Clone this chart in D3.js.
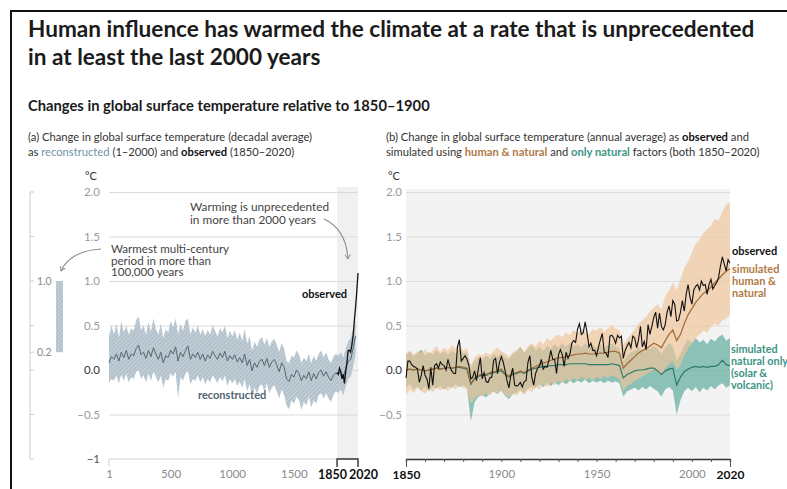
<!DOCTYPE html>
<html><head><meta charset="utf-8">
<script src="https://cdn.jsdelivr.net/npm/d3@7"></script>
<style>body{margin:0;background:#fff} svg{display:block;font-family:Lato,"Open Sans",sans-serif}</style>
</head><body><svg id="c" width="787" height="489"></svg>
<script>
// ---------- DATA ----------
const titleLines = ["Human influence has warmed the climate at a rate that is unprecedented", "in at least the last 2000 years"];
const subtitle = "Changes in global surface temperature relative to 1850–1900";

const yTicks = [2, 1.5, 1, 0.5, 0, -0.5, -1];
const yTickLabelsL = ["2.0", "1.5", "1.0", "0.5", "0.0", "−0.5", "−1"];
const yTickLabelsR = ["2.0", "1.5", "1.0", "0.5", "0.0", "−0.5", ""];
const xTicksL = [1, 500, 1000, 1500, 1850, 2020];
const xTickLabelsR = {1850: "1850", 1900: "1900", 1950: "1950", 2000: "2000", 2020: "2020"};

// (a) reconstructed, 20-year sampling
const reconYears = [1,21,41,61,81,101,121,141,161,181,201,221,241,261,281,301,321,341,361,381,401,421,441,461,481,501,521,541,561,581,601,621,641,661,681,701,721,741,761,781,801,821,841,861,881,901,921,941,961,981,1001,1021,1041,1061,1081,1101,1121,1141,1161,1181,1201,1221,1241,1261,1281,1301,1321,1341,1361,1381,1401,1421,1441,1461,1481,1501,1521,1541,1561,1581,1601,1621,1641,1661,1681,1701,1721,1741,1761,1781,1801,1821,1841,1861,1881,1901,1921,1941,1961,1981,2000];
const reconMean = [0.08,0.15,0.12,0.18,0.10,0.20,0.14,0.22,0.12,0.18,
0.16,0.24,0.28,0.17,0.20,0.13,0.22,0.15,0.25,0.18,
0.12,0.20,0.08,0.16,0.14,0.22,0.18,0.26,0.10,0.20,
0.15,0.22,0.27,0.12,0.18,0.14,0.20,0.12,0.18,0.10,
0.17,0.13,0.21,0.16,0.12,0.19,0.14,0.21,0.10,0.16,
0.12,0.17,0.09,0.14,0.08,0.18,0.05,0.12,-0.01,0.08,
0.03,0.10,0.12,0.05,0.13,0.03,0.09,0.12,0.06,-0.02,
0.08,0.03,-0.10,-0.13,-0.05,-0.08,0.00,-0.04,-0.12,-0.06,
-0.10,-0.02,-0.12,-0.04,-0.10,-0.03,0.00,-0.07,-0.02,-0.08,
-0.12,-0.06,-0.03,-0.05,-0.02,-0.08,0.02,0.10,0.12,0.25,
0.38];
const reconHi = [0.38,0.50,0.40,0.52,0.36,0.55,0.42,0.50,0.40,0.47,
0.44,0.56,0.60,0.45,0.50,0.40,0.54,0.43,0.58,0.46,
0.40,0.52,0.36,0.46,0.42,0.55,0.48,0.58,0.40,0.52,
0.44,0.55,0.58,0.40,0.48,0.42,0.50,0.40,0.46,0.38,
0.45,0.40,0.50,0.44,0.38,0.47,0.42,0.50,0.36,0.44,
0.38,0.45,0.34,0.42,0.33,0.46,0.30,0.38,0.22,0.32,
0.26,0.34,0.37,0.28,0.36,0.26,0.32,0.35,0.28,0.20,
0.30,0.24,0.10,0.08,0.16,0.14,0.22,0.18,0.08,0.14,
0.10,0.18,0.08,0.16,0.10,0.18,0.22,0.14,0.20,0.12,
0.08,0.15,0.18,0.16,0.20,0.14,0.24,0.32,0.36,0.46,
0.56];
const reconLo = [-0.14,-0.10,-0.12,-0.06,-0.15,-0.05,-0.12,-0.04,-0.14,-0.08,
-0.10,-0.02,0.00,-0.10,-0.06,-0.14,-0.04,-0.12,-0.02,-0.08,
-0.14,-0.06,-0.20,-0.10,-0.12,-0.04,-0.08,-0.02,-0.32,-0.08,
-0.12,-0.04,-0.01,-0.16,-0.10,-0.12,-0.06,-0.14,-0.08,-0.16,
-0.10,-0.14,-0.06,-0.10,-0.15,-0.08,-0.13,-0.06,-0.18,-0.10,
-0.15,-0.10,-0.18,-0.13,-0.20,-0.10,-0.24,-0.16,-0.30,-0.20,
-0.26,-0.18,-0.16,-0.24,-0.15,-0.26,-0.20,-0.17,-0.24,-0.32,
-0.22,-0.28,-0.40,-0.44,-0.34,-0.38,-0.30,-0.34,-0.45,-0.36,
-0.40,-0.30,-0.42,-0.34,-0.38,-0.28,-0.26,-0.32,-0.26,-0.32,
-0.36,-0.28,-0.24,-0.26,-0.22,-0.28,-0.18,-0.10,-0.08,0.04,
0.18];
// (a) observed decadal
const obsDecYears = [1850,1860,1870,1880,1890,1900,1910,1920,1930,1940,1950,1960,1970,1980,1990,2000,2010,2020];
const obsDecVals  = [-0.03,-0.05,0.02,-0.02,-0.10,-0.05,-0.15,-0.02,0.08,0.22,0.22,0.20,0.28,0.38,0.55,0.70,0.88,1.09];
// warmest multi-century period bar
const warmBar = [0.2, 1.0];
const barAxisTicks = [2, 1.5, 1, 0.5, 0.2, 0, -0.5, -1];
const barAxisLabels = {"1": "1.0", "0.2": "0.2"};

// (b) observed annual 1850-2020
const obsAnnStart = 1850;
const obsAnn = [-0.09,0.10,0.10,0.06,0.04,0.03,0.01,-0.14,-0.06,0.05,
-0.06,-0.10,-0.21,0.03,-0.17,0.05,0.07,0.02,0.09,0.06,
0.05,0.00,0.12,0.04,-0.01,-0.04,-0.04,0.26,0.34,0.10,
0.13,0.16,0.12,0.05,-0.10,-0.08,-0.01,-0.12,0.02,0.14,
-0.10,-0.03,-0.13,-0.14,-0.09,-0.08,0.11,0.13,-0.04,0.08,
0.15,0.09,-0.01,-0.12,-0.20,-0.06,0.02,-0.17,-0.18,-0.17,
-0.14,-0.19,-0.13,-0.12,0.09,0.16,-0.08,-0.17,-0.04,0.02,
0.04,0.12,0.01,0.04,0.03,0.11,0.22,0.12,0.12,-0.04,
0.17,0.23,0.17,0.04,0.20,0.13,0.18,0.30,0.33,0.31,
0.46,0.52,0.40,0.42,0.54,0.42,0.26,0.30,0.22,0.22,
0.16,0.26,0.34,0.41,0.20,0.19,0.14,0.38,0.39,0.36,
0.30,0.39,0.36,0.38,0.13,0.22,0.27,0.31,0.25,0.38,
0.36,0.25,0.34,0.49,0.26,0.32,0.23,0.51,0.40,0.49,
0.59,0.65,0.47,0.64,0.49,0.45,0.51,0.65,0.72,0.60,
0.78,0.74,0.55,0.56,0.65,0.78,0.66,0.85,0.96,0.82,
0.74,0.90,0.94,0.96,0.90,1.00,0.95,0.96,0.85,0.96,
1.02,0.91,0.95,0.98,1.04,1.17,1.27,1.19,1.11,1.24,1.20];

// (b) simulated, 2-year sampling 1850-2020
const simYears = [1850,1852,1854,1856,1858,1860,1862,1864,1866,1868,1870,1872,1874,1876,1878,1880,1882,1884,1886,1888,1890,1892,1894,1896,1898,1900,1902,1904,1906,1908,1910,1912,1914,1916,1918,1920,1922,1924,1926,1928,1930,1932,1934,1936,1938,1940,1942,1944,1946,1948,1950,1952,1954,1956,1958,1960,1962,1964,1966,1968,1970,1972,1974,1976,1978,1980,1982,1984,1986,1988,1990,1992,1994,1996,1998,2000,2002,2004,2006,2008,2010,2012,2014,2016,2018,2020];
const hnMean = [0.00,0.01,0.00,0.01,0.00,-0.01,0.00,0.01,0.02,0.01,
0.02,0.03,0.02,0.03,0.04,0.03,0.02,-0.15,-0.09,-0.06,
-0.05,-0.05,-0.03,-0.02,-0.01,0.01,-0.04,-0.07,-0.04,-0.03,
-0.01,-0.03,0.00,0.02,0.04,0.06,0.08,0.09,0.11,0.12,
0.14,0.14,0.15,0.16,0.17,0.18,0.18,0.19,0.18,0.18,
0.18,0.19,0.19,0.20,0.21,0.21,0.19,0.02,0.07,0.11,
0.15,0.19,0.22,0.24,0.27,0.30,0.28,0.25,0.33,0.40,
0.45,0.33,0.40,0.52,0.62,0.69,0.76,0.81,0.86,0.89,
0.93,0.98,1.02,1.07,1.11,1.14];
const hnHi = [0.18,0.22,0.17,0.21,0.19,0.24,0.18,0.22,0.27,0.20,
0.25,0.22,0.28,0.24,0.30,0.22,0.24,0.06,0.14,0.18,
0.16,0.20,0.17,0.22,0.25,0.21,0.19,0.15,0.20,0.22,
0.26,0.20,0.27,0.30,0.26,0.33,0.29,0.36,0.33,0.38,
0.40,0.37,0.42,0.39,0.45,0.41,0.47,0.43,0.40,0.46,
0.44,0.48,0.43,0.47,0.50,0.46,0.45,0.28,0.35,0.40,
0.46,0.52,0.56,0.60,0.66,0.70,0.74,0.68,0.82,0.90,
0.98,0.90,1.02,1.15,1.22,1.32,1.42,1.46,1.54,1.58,
1.62,1.70,1.68,1.78,1.86,1.88];
const hnLo = [-0.28,-0.22,-0.26,-0.20,-0.24,-0.27,-0.21,-0.25,-0.19,-0.23,
-0.20,-0.24,-0.18,-0.22,-0.17,-0.20,-0.22,-0.38,-0.32,-0.28,
-0.30,-0.26,-0.29,-0.24,-0.27,-0.22,-0.28,-0.31,-0.26,-0.29,
-0.24,-0.28,-0.22,-0.25,-0.19,-0.22,-0.16,-0.19,-0.14,-0.17,
-0.12,-0.15,-0.10,-0.13,-0.09,-0.12,-0.08,-0.11,-0.09,-0.12,
-0.08,-0.10,-0.07,-0.09,-0.06,-0.08,-0.10,-0.24,-0.18,-0.16,
-0.12,-0.10,-0.07,-0.05,-0.02,0.00,-0.03,-0.06,0.02,0.06,
0.10,0.00,0.06,0.16,0.24,0.30,0.36,0.40,0.44,0.42,
0.48,0.52,0.50,0.56,0.58,0.62];
const natMean = [0.00,0.01,0.00,0.01,0.00,-0.01,0.00,0.01,0.02,0.01,
0.02,0.03,0.02,0.03,0.03,0.02,0.01,-0.16,-0.10,-0.07,
-0.06,-0.06,-0.04,-0.03,-0.02,-0.01,-0.05,-0.08,-0.05,-0.04,
-0.02,-0.04,-0.01,0.01,0.02,0.03,0.04,0.04,0.05,0.05,
0.06,0.06,0.06,0.07,0.07,0.07,0.07,0.07,0.06,0.06,
0.06,0.06,0.06,0.06,0.07,0.06,0.05,-0.09,-0.05,-0.03,
-0.01,0.00,0.00,0.01,0.02,0.02,-0.01,-0.05,-0.01,0.01,
0.02,-0.17,-0.08,-0.02,0.01,0.03,0.04,0.03,0.04,0.03,
0.04,0.04,0.06,0.11,0.06,0.05];
const natHi = [0.17,0.21,0.15,0.19,0.23,0.16,0.20,0.17,0.22,0.18,
0.21,0.17,0.22,0.18,0.24,0.19,0.20,0.02,0.10,0.14,
0.12,0.16,0.13,0.18,0.15,0.19,0.14,0.12,0.18,0.21,
0.26,0.19,0.24,0.28,0.22,0.26,0.21,0.27,0.24,0.29,
0.25,0.30,0.26,0.31,0.27,0.29,0.25,0.30,0.26,0.28,
0.24,0.29,0.25,0.28,0.30,0.26,0.24,0.10,0.16,0.20,
0.22,0.25,0.21,0.26,0.23,0.27,0.24,0.18,0.25,0.30,
0.27,0.10,0.18,0.28,0.35,0.30,0.36,0.31,0.34,0.29,
0.35,0.32,0.37,0.40,0.33,0.36];
const natLo = [-0.20,-0.16,-0.22,-0.18,-0.23,-0.19,-0.24,-0.18,-0.21,-0.17,
-0.22,-0.18,-0.20,-0.16,-0.19,-0.17,-0.20,-0.58,-0.36,-0.30,
-0.28,-0.31,-0.26,-0.24,-0.27,-0.23,-0.29,-0.33,-0.27,-0.25,
-0.22,-0.26,-0.21,-0.18,-0.20,-0.16,-0.19,-0.15,-0.18,-0.14,
-0.17,-0.13,-0.16,-0.12,-0.15,-0.12,-0.14,-0.11,-0.15,-0.12,
-0.14,-0.12,-0.15,-0.12,-0.14,-0.13,-0.15,-0.30,-0.24,-0.22,
-0.20,-0.23,-0.19,-0.22,-0.18,-0.21,-0.24,-0.30,-0.22,-0.19,
-0.23,-0.50,-0.34,-0.24,-0.20,-0.24,-0.19,-0.25,-0.20,-0.23,
-0.18,-0.22,-0.17,-0.15,-0.20,-0.17];

// ---------- LAYOUT ----------
const svg = d3.select("#c");
const F = 'Lato,"Open Sans",sans-serif';
const yTop = 192, yBot = 459;
const yL = d3.scaleLinear().domain([-1, 2]).range([yBot, yTop]);
const yR = yL.copy();
const xL = d3.scaleLinear().domain([1, 2020]).range([109, 358]);
const xR = d3.scaleLinear().domain([1850, 2020]).range([406, 730]);

const defs = svg.append("defs");
const pat = defs.append("pattern").attr("id", "hatch").attr("patternUnits", "userSpaceOnUse")
  .attr("width", 3).attr("height", 3).attr("patternTransform", "rotate(45)");
pat.append("rect").attr("width", 3).attr("height", 3).attr("fill", "#b2c1cb");
pat.append("line").attr("x1", 0.5).attr("y1", 0).attr("x2", 0.5).attr("y2", 3).attr("stroke", "#fff").attr("stroke-opacity", 0.35).attr("stroke-width", 0.8);
defs.append("marker").attr("id", "arr").attr("viewBox", "0 0 8 8").attr("refX", 6).attr("refY", 4)
  .attr("markerWidth", 7).attr("markerHeight", 7).attr("orient", "auto").attr("markerUnits", "userSpaceOnUse")
  .append("path").attr("d", "M1,1 L6,4 L1,7").attr("fill", "none").attr("stroke", "#8a8a8a").attr("stroke-width", 1.1);

// frame
svg.append("path").attr("d", "M11,489 V11 H787").attr("fill", "none").attr("stroke", "#111").attr("stroke-width", 2);

// titles
const t1 = svg.append("text").attr("x", 28).attr("y", 37).attr("fill", "#1b1b1b").style("font-weight", 700).style("font-size", "22px").text(titleLines[0]);
const w1 = t1.node().getComputedTextLength();
const fs1 = 22 * 727 / w1;
t1.style("font-size", fs1 + "px");
svg.append("text").attr("x", 28).attr("y", 65).attr("fill", "#1b1b1b").style("font-weight", 700).style("font-size", fs1 + "px").text(titleLines[1]);
const st = svg.append("text").attr("x", 28).attr("y", 111).attr("fill", "#1b1b1b").style("font-weight", 700).style("font-size", "14px").text(subtitle);
st.style("font-size", (14 * 402 / st.node().getComputedTextLength()) + "px");

function richText(x, y, parts, size) {
  const t = svg.append("text").attr("x", x).attr("y", y).style("font-size", size + "px").attr("fill", "#333");
  parts.forEach(p => t.append("tspan").text(p[0]).attr("fill", p[1] || "#333").style("font-weight", p[2] || 400));
  return t;
}
richText(28, 141, [["(a) Change in global surface temperature (decadal average)"]], 11.2);
richText(28, 156, [["as "], ["reconstructed", "#6f93a8"], [" (1–2000) and "], ["observed", "#111", 700], [" (1850–2020)"]], 11.2);
richText(386, 141, [["(b) Change in global surface temperature (annual average) as "], ["observed", "#111", 700], [" and"]], 11.2);
richText(386, 156, [["simulated using "], ["human & natural", "#b07a45", 700], [" and "], ["only natural", "#3c9484", 700], [" factors (both 1850–2020)"]], 11.2);

// ---------- PANEL A ----------
const gA = svg.append("g");
gA.append("text").attr("x", 85).attr("y", 180).style("font-size", "11px").attr("fill", "#333").text("°C");
gA.append("rect").attr("x", xL(1850)).attr("y", yTop - 5).attr("width", xL(2020) - xL(1850)).attr("height", yBot - yTop + 5).attr("fill", "#f0f0f0");
// grid
gA.append("g").attr("transform", `translate(${xL(1)},0)`)
  .call(d3.axisLeft(yL).tickValues(yTicks.filter(d => d > -1)).tickSize(-(xL(2020) - xL(1))).tickFormat(""))
  .call(g => g.select(".domain").remove())
  .call(g => g.selectAll("line").attr("stroke", "#dadada"));
// y labels
gA.append("g").attr("transform", "translate(100,0)")
  .call(d3.axisLeft(yL).tickValues(yTicks).tickSize(0).tickPadding(0).tickFormat((d, i) => yTickLabelsL[i]))
  .call(g => g.select(".domain").remove())
  .call(g => g.selectAll("text").style("font-family", F).style("font-size", "11.5px")
    .attr("fill", d => d === 0 ? "#333" : (d === -1 ? "#555" : "#9a9a9a")));
// band & line
gA.append("path").datum(reconYears)
  .attr("d", d3.area().x(d => xL(d)).y0((d, i) => yL(reconLo[i])).y1((d, i) => yL(reconHi[i])))
  .attr("fill", "url(#hatch)");
gA.append("path").datum(reconYears)
  .attr("d", d3.line().x(d => xL(d)).y((d, i) => yL(reconMean[i])))
  .attr("fill", "none").attr("stroke", "#56676f").attr("stroke-width", 1);
gA.append("path").datum(obsDecYears)
  .attr("d", d3.line().x(d => xL(d)).y((d, i) => yL(obsDecVals[i])))
  .attr("fill", "none").attr("stroke", "#111").attr("stroke-width", 1.3);
// bottom axis
gA.append("g").attr("transform", `translate(0,${yBot})`)
  .call(d3.axisBottom(xL).tickValues(xTicksL).tickSize(0).tickPadding(11).tickFormat(d => d))
  .call(g => g.select(".domain").remove())
  .call(g => g.selectAll("text").style("font-family", F)
    .style("font-size", d => d >= 1850 ? "12.5px" : "11.5px")
    .attr("dx", d => d === 1850 ? -5 : (d === 2020 ? 5 : 0))
    .attr("fill", d => d >= 1850 ? "#111" : "#8a8a8a").style("font-weight", d => d >= 1850 ? 700 : 400));
gA.append("path").attr("d", `M${xL(1)},${yBot + 7}V${yBot}H${xL(1850)}`).attr("fill", "none").attr("stroke", "#cfcfcf");
gA.append("path").attr("d", `M${xL(1850)},${yBot + 8}V${yBot}H${xL(2020)}V${yBot + 8}`).attr("fill", "none").attr("stroke", "#333").attr("stroke-width", 1.4);
// annotations
gA.append("text").attr("x", 347).attr("y", 298).attr("text-anchor", "end").style("font-size", "11px").style("font-weight", 700).attr("fill", "#111").text("observed");
gA.append("text").attr("x", 198).attr("y", 399).style("font-size", "11px").style("font-weight", 700).attr("fill", "#4f6572").text("reconstructed");
const ann1 = gA.append("text").attr("x", 111).attr("y", 253).style("font-size", "11.6px").attr("fill", "#444");
["Warmest multi-century", "period in more than", "100,000 years"].forEach((s, i) => ann1.append("tspan").attr("x", 111).attr("dy", i ? 11.5 : 0).text(s));
const ann2 = gA.append("text").attr("x", 190).attr("y", 210.5).style("font-size", "11.8px").attr("fill", "#444");
["Warming is unprecedented", "in more than 2000 years"].forEach((s, i) => ann2.append("tspan").attr("x", 190).attr("dy", i ? 13.8 : 0).text(s));
gA.append("path").attr("d", "M101,249 Q70,251 61,271").attr("fill", "none").attr("stroke", "#8a8a8a").attr("stroke-width", 1.1).attr("marker-end", "url(#arr)");
gA.append("path").attr("d", "M324,219 Q346,229 348,259").attr("fill", "none").attr("stroke", "#8a8a8a").attr("stroke-width", 1.1).attr("marker-end", "url(#arr)");

// warm bar + its axis
gA.append("line").attr("x1", 30).attr("x2", 30).attr("y1", yL(2)).attr("y2", yL(-1)).attr("stroke", "#cccccc");
barAxisTicks.forEach(v => {
  gA.append("line").attr("x1", 30).attr("x2", 34).attr("y1", yL(v)).attr("y2", yL(v)).attr("stroke", "#cccccc");
  if (barAxisLabels[String(v)]) gA.append("text").attr("x", 37).attr("y", yL(v)).attr("dy", "0.35em").style("font-size", "10.5px").attr("fill", "#8a8a8a").text(barAxisLabels[String(v)]);
});
gA.append("rect").attr("x", 56).attr("width", 7).attr("y", yL(warmBar[1])).attr("height", yL(warmBar[0]) - yL(warmBar[1])).attr("fill", "url(#hatch)");

// ---------- PANEL B ----------
const gB = svg.append("g");
gB.append("text").attr("x", 388).attr("y", 180).style("font-size", "11px").attr("fill", "#333").text("°C");
gB.append("rect").attr("x", xR(1850)).attr("y", yTop - 3).attr("width", xR(2020) - xR(1850)).attr("height", yBot - yTop + 3).attr("fill", "#f3f3f3");
gB.append("g").attr("transform", `translate(${xR(1850)},0)`)
  .call(d3.axisLeft(yR).tickValues(yTicks.filter(d => d > -1)).tickSize(-(xR(2020) - xR(1850))).tickFormat(""))
  .call(g => g.select(".domain").remove())
  .call(g => g.selectAll("line").attr("stroke", "#dcdcdc"));
gB.append("g").attr("transform", "translate(402,0)")
  .call(d3.axisLeft(yR).tickValues(yTicks.filter(d => d > -1)).tickSize(0).tickPadding(0).tickFormat((d, i) => yTickLabelsR[i]))
  .call(g => g.select(".domain").remove())
  .call(g => g.selectAll("text").style("font-family", F).style("font-size", "11.5px")
    .attr("fill", d => d === 0 ? "#333" : "#9a9a9a"));
// bands
gB.append("path").datum(simYears)
  .attr("d", d3.area().x(d => xR(d)).y0((d, i) => yR(natLo[i])).y1((d, i) => yR(natHi[i])))
  .attr("fill", "#62ad9e").attr("fill-opacity", 0.72);
gB.append("path").datum(simYears)
  .attr("d", d3.area().x(d => xR(d)).y0((d, i) => yR(hnLo[i])).y1((d, i) => yR(hnHi[i])))
  .attr("fill", "#f0c49a").attr("fill-opacity", 0.68);
gB.append("path").datum(simYears)
  .attr("d", d3.line().x(d => xR(d)).y((d, i) => yR(natMean[i])))
  .attr("fill", "none").attr("stroke", "#2e7a6b").attr("stroke-width", 1.2);
gB.append("path").datum(simYears)
  .attr("d", d3.line().x(d => xR(d)).y((d, i) => yR(hnMean[i])))
  .attr("fill", "none").attr("stroke", "#a06a35").attr("stroke-width", 1.2);
gB.append("path").datum(obsAnn)
  .attr("d", d3.line().x((d, i) => xR(obsAnnStart + i)).y(d => yR(d)))
  .attr("fill", "none").attr("stroke", "#111").attr("stroke-width", 1.1);
// bottom axis
gB.append("g").attr("transform", `translate(0,${yBot})`)
  .call(d3.axisBottom(xR).tickValues(d3.range(1850, 2021, 10)).tickSize(3).tickPadding(8).tickFormat(d => xTickLabelsR[d] || ""))
  .call(g => g.select(".domain").attr("stroke", "#333").attr("stroke-width", 1.4))
  .call(g => g.selectAll(".tick line").attr("stroke", "#555").attr("y2", d => (d === 1850 || d === 2020) ? 8 : 3))
  .call(g => g.selectAll("text").style("font-family", F).style("font-size", d => (d === 1850 || d === 2020) ? "12px" : "11.5px")
    .attr("fill", d => (d === 1850 || d === 2020) ? "#111" : "#8a8a8a").style("font-weight", d => (d === 1850 || d === 2020) ? 700 : 400));
// labels
gB.append("text").attr("x", 732).attr("y", 255).style("font-size", "11px").style("font-weight", 700).attr("fill", "#111").text("observed");
const lb = gB.append("text").attr("x", 732).attr("y", 273).style("font-size", "11px").style("font-weight", 700).attr("fill", "#b07a45");
["simulated", "human &", "natural"].forEach((s, i) => lb.append("tspan").attr("x", 732).attr("dy", i ? 12 : 0).text(s));
const lt = gB.append("text").attr("x", 731).attr("y", 353).style("font-size", "10.8px").style("font-weight", 700).attr("fill", "#3c9484");
["simulated", "natural only", "(solar &", "volcanic)"].forEach((s, i) => lt.append("tspan").attr("x", 731).attr("dy", i ? 12 : 0).text(s));
</script></body></html>
